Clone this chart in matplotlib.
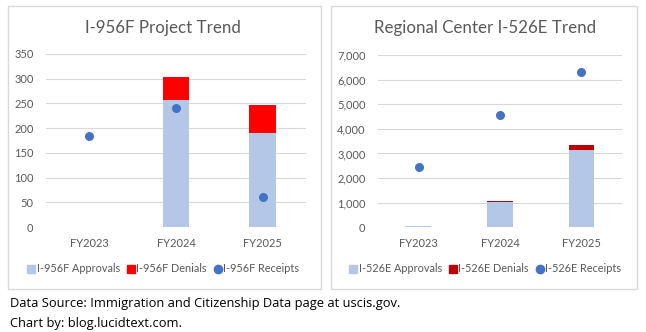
import matplotlib
matplotlib.use("Agg")
import matplotlib.pyplot as plt
from matplotlib.patches import Rectangle
from matplotlib.lines import Line2D
from matplotlib.ticker import FuncFormatter

# data
years = ["FY2023", "FY2024", "FY2025"]

i956_approvals = [0, 256, 190]
i956_denials = [0, 48, 57]
i956_receipts = [184, 240, 60]

i526_approvals = [50, 1030, 3140]
i526_denials = [5, 30, 200]
i526_receipts = [2440, 4550, 6300]

W, H = 646, 332
LIGHT_BLUE = "#B4C7E7"
DOT_BLUE = "#4472C4"
GRID = "#D9D9D9"
TXT = "#595959"

plt.rcParams['font.family'] = ['Lato', 'DejaVu Sans']

fig = plt.figure(figsize=(W / 100, H / 100), dpi=100)


def px_rect(x0, y0, x1, y1):
    # pixel box (top-left origin) -> figure fraction rect
    return [x0 / W, 1 - y1 / H, (x1 - x0) / W, (y1 - y0) / H]


def panel(box, ax_box, title, title_x, approvals, denials, receipts, den_color,
          ymax, step, prefix, fmt=None):
    x0, y0, x1, y1 = box
    fig.patches.append(Rectangle((x0 / W, 1 - y1 / H), (x1 - x0) / W, (y1 - y0) / H,
                                 transform=fig.transFigure, fill=False,
                                 edgecolor=GRID, lw=1))
    fig.text(title_x / W, 1 - 28 / H, title, ha="center", va="center",
             fontsize=12.2, color=TXT)
    ax = fig.add_axes(px_rect(*ax_box))
    xs = range(len(years))
    ax.bar(xs, approvals, width=0.31, color=LIGHT_BLUE, zorder=2)
    ax.bar(xs, denials, width=0.31, bottom=approvals, color=den_color, zorder=2)
    ax.scatter(xs, receipts, s=30, color=DOT_BLUE, zorder=3)
    ax.set_xlim(-0.5, len(years) - 0.5)
    ax.set_ylim(0, ymax)
    ax.set_yticks(range(0, ymax + 1, step))
    if fmt:
        ax.yaxis.set_major_formatter(FuncFormatter(fmt))
    ax.set_xticks(list(xs))
    ax.set_xticklabels(years)
    ax.yaxis.grid(True, color=GRID, lw=0.8, zorder=0)
    ax.set_axisbelow(True)
    for s in ax.spines.values():
        s.set_visible(False)
    ax.tick_params(length=0, labelsize=8, labelcolor=TXT)
    ax.tick_params(axis="y", pad=9)
    ax.tick_params(axis="x", pad=8)
    handles = [
        Line2D([], [], marker="s", ls="", color=LIGHT_BLUE, markersize=6),
        Line2D([], [], marker="s", ls="", color=den_color, markersize=6),
        Line2D([], [], marker="o", ls="", color=DOT_BLUE, markersize=6),
    ]
    labels = [prefix + " Approvals", prefix + " Denials", prefix + " Receipts"]
    leg = fig.legend(handles, labels, loc="center", ncol=3, frameon=False,
                     bbox_to_anchor=(title_x / W, 1 - 269 / H), fontsize=7.8,
                     handlelength=0.8, handletextpad=0.1, columnspacing=0.6)
    for t in leg.get_texts():
        t.set_color(TXT)
    return ax


panel((8, 6, 321, 289), (46, 54, 306, 227), "I-956F Project Trend", 163,
      i956_approvals, i956_denials, i956_receipts, "#FF0000", 350, 50, "I-956F")

panel((331, 6, 637, 289), (378, 55, 622, 227.3), "Regional Center I-526E Trend", 485,
      i526_approvals, i526_denials, i526_receipts, "#C00000", 7000, 1000, "I-526E",
      fmt=lambda v, p: f"{int(v):,}")

fig.text(10 / W, 1 - 303 / H, "Data Source: Immigration and Citizenship Data page at uscis.gov.",
         fontsize=9.3, color="black", va="center", family=["Open Sans", "DejaVu Sans"])
fig.text(10 / W, 1 - 323 / H, "Chart by: blog.lucidtext.com.",
         fontsize=9.3, color="black", va="center", family=["Open Sans", "DejaVu Sans"])

fig.savefig("out.png", dpi=100)
